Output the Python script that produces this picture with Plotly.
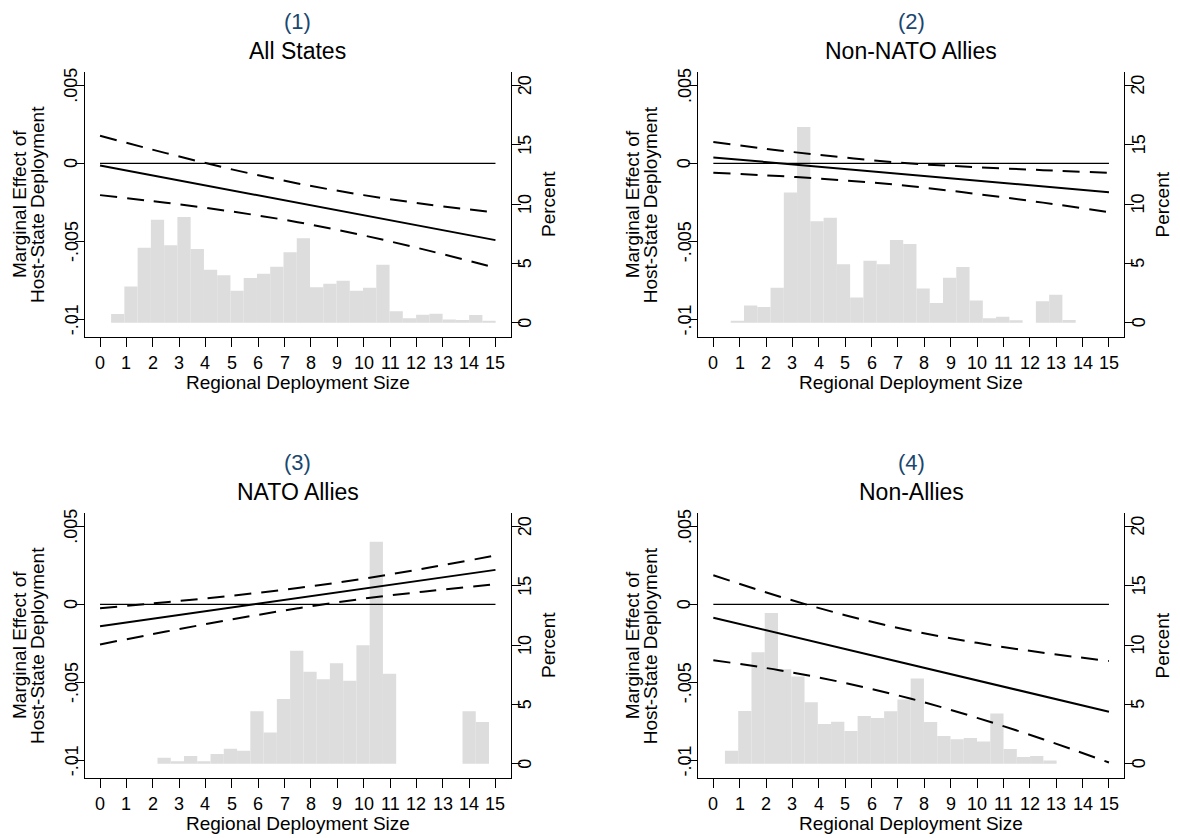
import plotly.graph_objects as go

# ---------------- data ----------------
x_eval = [0, 2.5, 5, 7.5, 10, 12.5, 15]
zero_x = [0, 15]
zero_y = [0, 0]

panel_numbers = ["(1)", "(2)", "(3)", "(4)"]
panel_names = ["All States", "Non-NATO Allies", "NATO Allies", "Non-Allies"]
x_title = "Regional Deployment Size"
left_title_lines = ["Marginal Effect of", "Host-State Deployment"]
right_title = "Percent"

p1_effect = [-0.00013, -0.00093, -0.00173, -0.00252, -0.00332, -0.00412, -0.00491]
p1_upper = [0.00177, 0.00066, -0.00038, -0.00128, -0.00203, -0.00264, -0.00314]
p1_lower = [-0.00203, -0.00252, -0.00308, -0.00376, -0.00461, -0.00560, -0.00668]

p2_effect = [0.000384, 0.000013, -0.000358, -0.000728, -0.00110, -0.00147, -0.00184]
p2_upper = [0.00137, 0.00083, 0.00037, -0.00001, -0.00024, -0.00043, -0.00060]
p2_lower = [-0.00060, -0.00081, -0.00109, -0.00146, -0.00196, -0.00251, -0.00312]

p3_effect = [-0.00140, -0.00080, -0.00020, 0.00040, 0.00101, 0.00161, 0.00221]
p3_upper = [-0.00025, 0.00014, 0.00056, 0.00105, 0.00165, 0.00236, 0.00313]
p3_lower = [-0.00256, -0.00174, -0.00096, -0.00025, 0.00037, 0.00086, 0.00129]

p4_effect = [-0.00085, -0.00185, -0.00286, -0.00386, -0.00486, -0.00586, -0.00687]
p4_upper = [0.00187, 0.00051, -0.00069, -0.00168, -0.00246, -0.00309, -0.00362]
p4_lower = [-0.00357, -0.00421, -0.00503, -0.00604, -0.00726, -0.00863, -0.01012]

bin_width = 0.503
p1_hist_start = 0.42
p1_pct = [0.73, 3.06, 6.32, 8.68, 6.52, 8.90, 6.21, 4.47, 3.99, 2.70, 3.76, 4.13, 4.72, 5.93,
          7.11, 2.98, 3.29, 3.54, 2.70, 2.95, 4.89, 0.96, 0.37, 0.67, 0.76, 0.28, 0.22, 0.65, 0.17]
p2_hist_start = 0.66
p2_pct = [0.11, 1.46, 1.32, 2.95, 10.98, 16.49, 8.54, 8.85, 4.92, 2.13, 5.22, 4.92, 6.97,
          6.63, 2.89, 1.66, 3.79, 4.69, 1.88, 0.37, 0.51, 0.20, 0.0, 1.80, 2.36, 0.22]
p3_hist_start = 2.18
p3_pct = [0.51, 0.20, 0.65, 0.20, 0.82, 1.27, 1.10, 4.42, 2.62, 5.46, 9.51, 7.74, 7.12,
          8.47, 6.98, 9.99, 18.71, 7.59, 0.0, 0.0, 0.0, 0.0, 0.0, 4.42, 3.52]
p4_hist_start = 0.44
p4_pct = [1.10, 4.44, 9.40, 12.69, 7.96, 7.34, 5.18, 3.35, 3.54, 2.76, 4.02, 3.85, 4.42,
          5.40, 7.17, 3.52, 2.33, 2.05, 2.17, 1.88, 4.22, 1.24, 0.56, 0.65, 0.28]

x_tickvals = list(range(0, 16))
x_ticktext = [str(v) for v in x_tickvals]
effect_tickvals = [0.005, 0, -0.005, -0.01]
effect_ticktext = [".005", "0", "-.005", "-.01"]
pct_tickvals = [0, 5, 10, 15, 20]
pct_ticktext = ["0", "5", "10", "15", "20"]

panels = [
    (p1_effect, p1_upper, p1_lower, p1_hist_start, p1_pct),
    (p2_effect, p2_upper, p2_lower, p2_hist_start, p2_pct),
    (p3_effect, p3_upper, p3_lower, p3_hist_start, p3_pct),
    (p4_effect, p4_upper, p4_lower, p4_hist_start, p4_pct),
]

# ---------------- layout geometry (pixels) ----------------
W, H = 1180, 838
FONT = "Liberation Sans, Arial, Helvetica, sans-serif"
col_left = [85.0, 698.3]
col_right = [510.5, 1124.0]
row_top = [71.7, 512.7]
row_bottom = [337.3, 778.3]
x_range = [-0.57, 15.57]
eff_range = [-0.01113, 0.00587]
pct_range = [-1.23, 21.15]


def px_x(v):
    return v / W


def px_y(v):
    return 1 - v / H


fig = go.Figure()
annotations = []
layout = dict(
    width=W, height=H, margin=dict(l=0, r=0, t=0, b=0),
    paper_bgcolor="white", plot_bgcolor="white", showlegend=False,
    font=dict(family=FONT, size=18, color="black"),
)

axis_common = dict(showgrid=False, zeroline=False, showline=True, linecolor="black",
                   linewidth=1, ticks="outside", ticklen=9, tickwidth=1, tickcolor="black",
                   showticklabels=False)

for i, (eff, up, lo, hstart, pct) in enumerate(panels):
    k = i + 1
    col, row = i % 2, i // 2
    xa = f"x{k}"
    ya_pct = f"y{2 * k - 1}"
    ya_eff = f"y{2 * k}"

    centers = [hstart + bin_width * (j + 0.5) for j in range(len(pct))]
    fig.add_trace(go.Bar(x=centers, y=pct, width=bin_width,
                         marker=dict(color="#dddddd", line=dict(width=0)),
                         xaxis=xa, yaxis=ya_pct, hoverinfo="skip"))
    fig.add_trace(go.Scatter(x=zero_x, y=zero_y, mode="lines", line=dict(color="black", width=1.1),
                             xaxis=xa, yaxis=ya_eff))
    for band in (up, lo):
        fig.add_trace(go.Scatter(x=x_eval, y=band, mode="lines",
                                 line=dict(color="black", width=2, dash="17px,10px", shape="spline"),
                                 xaxis=xa, yaxis=ya_eff))
    fig.add_trace(go.Scatter(x=x_eval, y=eff, mode="lines", line=dict(color="black", width=2),
                             xaxis=xa, yaxis=ya_eff))

    xkey = "xaxis" if k == 1 else f"xaxis{k}"
    ypkey = "yaxis" if k == 1 else f"yaxis{2 * k - 1}"
    yekey = f"yaxis{2 * k}"

    xd = [px_x(col_left[col]), px_x(col_right[col])]
    yd = [px_y(row_bottom[row]), px_y(row_top[row])]

    layout[xkey] = dict(axis_common, domain=xd, anchor=ya_pct, range=x_range,
                        tickmode="array", tickvals=x_tickvals)
    layout[ypkey] = dict(axis_common, domain=yd, anchor=xa, side="right", range=pct_range,
                         tickmode="array", tickvals=pct_tickvals)
    layout[yekey] = dict(axis_common, domain=yd, anchor=xa, side="left", overlaying=ya_pct,
                         range=eff_range, tickmode="array", tickvals=effect_tickvals)

    # tick labels (placed on the axes' own scales)
    for v, t in zip(x_tickvals, x_ticktext):
        annotations.append(dict(text=t, x=v, xref=xa, y=px_y(row_bottom[row] + 26), yref="paper",
                                font=dict(family=FONT, size=18, color="black")))
    for v, t in zip(effect_tickvals, effect_ticktext):
        annotations.append(dict(text=t, x=px_x(col_left[col] - 13.5), xref="paper", y=v, yref=ya_eff,
                                textangle=-90, font=dict(family=FONT, size=18, color="black")))
    for v, t in zip(pct_tickvals, pct_ticktext):
        annotations.append(dict(text=t, x=px_x(col_right[col] + 14.5), xref="paper", y=v, yref=ya_pct,
                                textangle=-90, font=dict(family=FONT, size=18, color="black")))

    cx = (col_left[col] + col_right[col]) / 2
    cy = (row_top[row] + row_bottom[row]) / 2
    top = row_top[row]
    annotations.append(dict(text=panel_numbers[i], x=px_x(cx), y=px_y(top - 50),
                            xref="paper", yref="paper",
                            font=dict(family=FONT, size=22, color="#1a476f")))
    annotations.append(dict(text=panel_names[i], x=px_x(cx), y=px_y(top - 20.5),
                            xref="paper", yref="paper",
                            font=dict(family=FONT, size=23, color="black")))
    annotations.append(dict(text=x_title, x=px_x(cx), y=px_y(row_bottom[row] + 45),
                            xref="paper", yref="paper",
                            font=dict(family=FONT, size=19, color="black")))
    annotations.append(dict(text=left_title_lines[0], x=px_x(col_left[col] - 65.5), y=px_y(cy),
                            xref="paper", yref="paper",
                            textangle=-90, font=dict(family=FONT, size=19, color="black")))
    annotations.append(dict(text=left_title_lines[1], x=px_x(col_left[col] - 47.5), y=px_y(cy),
                            xref="paper", yref="paper",
                            textangle=-90, font=dict(family=FONT, size=19, color="black")))
    annotations.append(dict(text=right_title, x=px_x(col_right[col] + 38), y=px_y(cy),
                            xref="paper", yref="paper",
                            textangle=-90, font=dict(family=FONT, size=19, color="black")))

for a in annotations:
    a.update(showarrow=False, xanchor="center", yanchor="middle", borderpad=0)
layout["annotations"] = annotations

fig.update_layout(**layout)
fig.write_html("out.html", config={"displayModeBar": False},
               post_script="document.body.style.margin='0';document.body.style.overflow='hidden';")
